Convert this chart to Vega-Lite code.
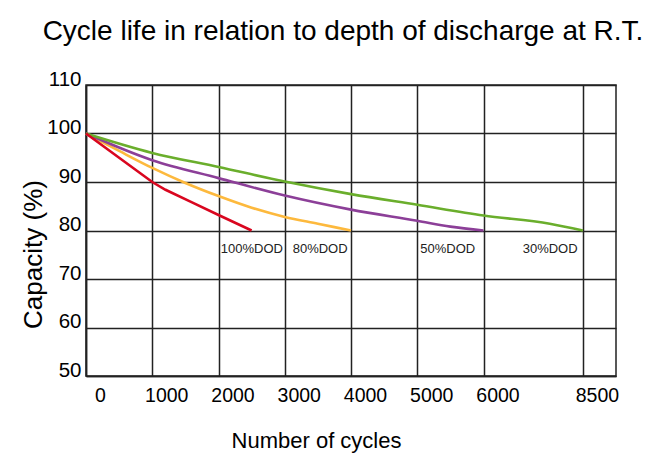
{
  "$schema": "https://vega.github.io/schema/vega-lite/v6.json",
  "width": 530,
  "height": 291,
  "autosize": {"type": "none"},
  "padding": {"left": 86, "top": 85, "right": 34, "bottom": 80},
  "background": "white",
  "view": {"stroke": "#222", "strokeWidth": 1.5},
  "title": {
    "text": "Cycle life in relation to depth of discharge at R.T.",
    "font": "Liberation Sans",
    "fontSize": 28,
    "fontWeight": "normal",
    "color": "#000",
    "anchor": "middle",
    "frame": "group",
    "baseline": "alphabetic",
    "dx": -8,
    "offset": 1
  },
  "datasets": {
    "curves": [
      {"series": "100%DOD", "cycles": 0, "capacity": 100},
      {"series": "100%DOD", "cycles": 500, "capacity": 95.0},
      {"series": "100%DOD", "cycles": 1000, "capacity": 90.0},
      {"series": "100%DOD", "cycles": 1200, "capacity": 88.4},
      {"series": "100%DOD", "cycles": 1600, "capacity": 85.8},
      {"series": "100%DOD", "cycles": 2000, "capacity": 83.2},
      {"series": "100%DOD", "cycles": 2500, "capacity": 80.0},
      {"series": "80%DOD", "cycles": 0, "capacity": 100},
      {"series": "80%DOD", "cycles": 500, "capacity": 96.4},
      {"series": "80%DOD", "cycles": 1000, "capacity": 92.9},
      {"series": "80%DOD", "cycles": 1500, "capacity": 89.8},
      {"series": "80%DOD", "cycles": 2000, "capacity": 87.1},
      {"series": "80%DOD", "cycles": 2500, "capacity": 84.7},
      {"series": "80%DOD", "cycles": 3000, "capacity": 82.8},
      {"series": "80%DOD", "cycles": 3500, "capacity": 81.4},
      {"series": "80%DOD", "cycles": 4000, "capacity": 80.0},
      {"series": "50%DOD", "cycles": 0, "capacity": 100},
      {"series": "50%DOD", "cycles": 1000, "capacity": 94.5},
      {"series": "50%DOD", "cycles": 2000, "capacity": 90.8},
      {"series": "50%DOD", "cycles": 3000, "capacity": 87.2},
      {"series": "50%DOD", "cycles": 4000, "capacity": 84.3},
      {"series": "50%DOD", "cycles": 5000, "capacity": 82.0},
      {"series": "50%DOD", "cycles": 5500, "capacity": 80.8},
      {"series": "50%DOD", "cycles": 6000, "capacity": 80.0},
      {"series": "30%DOD", "cycles": 0, "capacity": 100},
      {"series": "30%DOD", "cycles": 1000, "capacity": 96.0},
      {"series": "30%DOD", "cycles": 2000, "capacity": 93.1},
      {"series": "30%DOD", "cycles": 3000, "capacity": 90.1},
      {"series": "30%DOD", "cycles": 4000, "capacity": 87.5},
      {"series": "30%DOD", "cycles": 5000, "capacity": 85.3},
      {"series": "30%DOD", "cycles": 6000, "capacity": 83.1},
      {"series": "30%DOD", "cycles": 7667, "capacity": 81.4},
      {"series": "30%DOD", "cycles": 8500, "capacity": 80.0}
    ],
    "labels": [
      {"label": "100%DOD", "cycles": 2504, "capacity": 75.3},
      {"label": "80%DOD", "cycles": 3534, "capacity": 75.3},
      {"label": "50%DOD", "cycles": 5460, "capacity": 75.3},
      {"label": "30%DOD", "cycles": 7677, "capacity": 75.3}
    ]
  },
  "encoding": {
    "x": {
      "field": "cycles",
      "type": "quantitative",
      "scale": {"domain": [0, 6000, 9333.33], "range": [0, 397.5, 530], "nice": false, "zero": false},
      "axis": {
        "values": [0, 1000, 2000, 3000, 4000, 5000, 6000, 8500],
        "format": "d",
        "title": "Number of cycles",
        "grid": true,
        "gridColor": "#222",
        "gridWidth": 1.5,
        "gridOpacity": 1,
        "domainColor": "#222",
        "domainWidth": 1.5,
        "ticks": false,
        "labelFont": "Liberation Sans",
        "labelFontSize": 19.5,
        "labelColor": "#000",
        "labelOffset": 14,
        "labelBaseline": "alphabetic",
        "labelPadding": 25,
        "labelFlush": false,
        "labelOverlap": false,
        "titleFont": "Liberation Sans",
        "titleFontSize": 22,
        "titleFontWeight": "normal",
        "titleColor": "#000",
        "titleX": 230,
        "titleY": 71.3,
        "titleAlign": "center",
        "titleBaseline": "alphabetic"
      }
    },
    "y": {
      "field": "capacity",
      "type": "quantitative",
      "scale": {"domain": [50, 110], "nice": false, "zero": false},
      "axis": {
        "values": [50, 60, 70, 80, 90, 100, 110],
        "title": "Capacity (%)",
        "grid": true,
        "gridColor": "#222",
        "gridWidth": 1.5,
        "gridOpacity": 1,
        "domainColor": "#222",
        "domainWidth": 1.5,
        "ticks": false,
        "labelFont": "Liberation Sans",
        "labelFontSize": 20.5,
        "labelColor": "#000",
        "labelBaseline": "alphabetic",
        "labelPadding": 5,
        "labelFlush": false,
        "labelOverlap": false,
        "titleFont": "Liberation Sans",
        "titleFontSize": 26,
        "titleFontWeight": "normal",
        "titleColor": "#000",
        "titleAngle": -90,
        "titleX": -45,
        "titleY": 169,
        "titleAlign": "center",
        "titleBaseline": "alphabetic"
      }
    }
  },
  "layer": [
    {
      "data": {"name": "curves"},
      "transform": [{"filter": "datum.series !== '100%DOD'"}],
      "mark": {"type": "line", "strokeWidth": 2.6, "clip": false, "interpolate": "monotone"},
      "encoding": {
        "color": {
          "field": "series",
          "type": "nominal",
          "scale": {
            "domain": ["100%DOD", "80%DOD", "50%DOD", "30%DOD"],
            "range": ["#d9061f", "#fdb93d", "#8c3f98", "#6aae2c"]
          },
          "legend": null
        },
        "order": {"field": "cycles", "type": "quantitative"}
      }
    },
    {
      "data": {"name": "curves"},
      "transform": [{"filter": "datum.series === '100%DOD'"}],
      "mark": {"type": "line", "strokeWidth": 2.6, "clip": false},
      "encoding": {
        "color": {
          "field": "series",
          "type": "nominal",
          "scale": {
            "domain": ["100%DOD", "80%DOD", "50%DOD", "30%DOD"],
            "range": ["#d9061f", "#fdb93d", "#8c3f98", "#6aae2c"]
          },
          "legend": null
        },
        "order": {"field": "cycles", "type": "quantitative"}
      }
    },
    {
      "data": {"name": "labels"},
      "mark": {"type": "text", "font": "Liberation Sans", "fontSize": 13, "color": "#222", "baseline": "alphabetic", "align": "center"},
      "encoding": {
        "text": {"field": "label", "type": "nominal"}
      }
    }
  ]
}
